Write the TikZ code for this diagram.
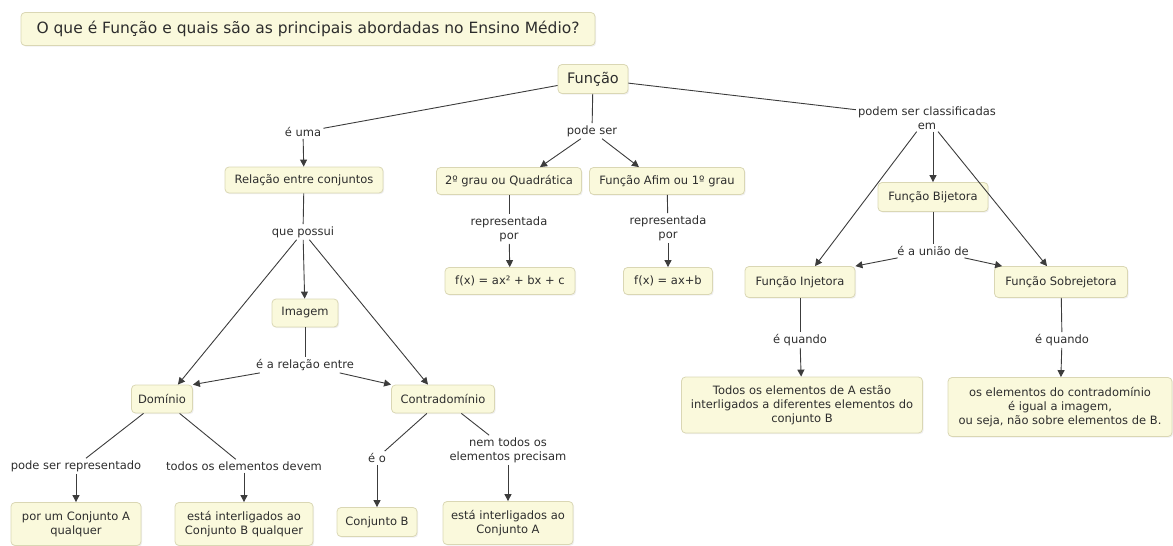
\documentclass[tikz,border=0pt]{standalone}
\usepackage{fontspec}
\setmainfont{DejaVu Sans}
\usetikzlibrary{arrows.meta,shadows}

\definecolor{boxfill}{RGB}{250,249,220}
\definecolor{boxline}{RGB}{218,215,180}
\definecolor{ink}{RGB}{45,45,45}
\definecolor{wirecol}{RGB}{60,60,60}

\tikzset{
  concept/.style={draw=boxline, fill=boxfill, rounded corners=4pt, line width=0.8pt,
    text=ink, font=\fontsize{11.5}{14}\selectfont, align=center,
    inner xsep=6pt, inner ysep=4pt,
    drop shadow={shadow xshift=1.2pt, shadow yshift=-1.2pt, opacity=0.12}},
  linkphrase/.style={text=ink, font=\fontsize{11.5}{14}\selectfont, align=center, inner sep=2pt},
  wire/.style={draw=wirecol, line width=0.9pt},
  arr/.style={wire, -{Triangle[length=7pt,width=7pt]}},
}

\begin{document}
\begin{tikzpicture}[x=1pt,y=-1pt]
\useasboundingbox (0,0) rectangle (1173,546);

% concepts
\node[concept, minimum width=574pt, minimum height=33pt, font=\fontsize{15.5}{18}\selectfont] (title) at (308,29)
  {O que é Função e quais são as principais abordadas no Ensino Médio?};
\node[concept, minimum width=70pt, minimum height=29pt, font=\fontsize{14.5}{17}\selectfont] (fun) at (593,79) {Função};

\node[concept, minimum width=158pt, minimum height=26pt] (rel) at (304,180) {Relação entre conjuntos};
\node[concept, minimum width=145pt, minimum height=27pt] (q2) at (509,181) {2º grau ou Quadrática};
\node[concept, minimum width=155pt, minimum height=27pt] (afim) at (667,181) {Função Afim ou 1º grau};
\node[concept, minimum width=110pt, minimum height=29pt] (bij) at (933,197) {Função Bijetora};

\node[concept, minimum width=66pt, minimum height=28pt] (img) at (305,313) {Imagem};
\node[concept, minimum width=130pt, minimum height=27pt] (fx2) at (510,281) {f(x) = ax² + bx + c};
\node[concept, minimum width=89pt, minimum height=27pt] (fx1) at (668,281) {f(x) = ax+b};
\node[concept, minimum width=110pt, minimum height=31pt] (inj) at (800,282) {Função Injetora};
\node[concept, minimum width=133pt, minimum height=31pt] (sob) at (1061,282) {Função Sobrejetora};

\node[concept, minimum width=61pt, minimum height=28pt] (dom) at (162,399) {Domínio};
\node[concept, minimum width=103pt, minimum height=28pt] (con) at (443,399) {Contradomínio};

\node[concept, minimum width=241pt, minimum height=56pt] (todosA) at (802,405)
  {Todos os elementos de A estão\\interligados a diferentes elementos do\\conjunto B};
\node[concept, minimum width=224pt, minimum height=59pt] (oselem) at (1060,407)
  {os elementos do contradomínio\\é igual a imagem,\\ou seja, não sobre elementos de B.};

\node[concept, minimum width=130pt, minimum height=43pt] (porum) at (76,524) {por um Conjunto A\\qualquer};
\node[concept, minimum width=138pt, minimum height=43pt] (estaB) at (244,524) {está interligados ao\\Conjunto B qualquer};
\node[concept, minimum width=80pt, minimum height=29pt] (cjB) at (377,522) {Conjunto B};
\node[concept, minimum width=130pt, minimum height=43pt] (estaA) at (508,523) {está interligados ao\\Conjunto A};

% linking phrases
\node[linkphrase] (euma) at (303,132) {é uma};
\node[linkphrase] (podeser) at (592,131) {pode ser};
\node[linkphrase] (podem) at (927,118) {podem ser classificadas\\em};
\node[linkphrase] (quepossui) at (303,232) {que possui};
\node[linkphrase] (rep1) at (509,229) {representada\\por};
\node[linkphrase] (rep2) at (668,228) {representada\\por};
\node[linkphrase] (uniao) at (933,251) {é a união de};
\node[linkphrase] (relacao) at (305,365) {é a relação entre};
\node[linkphrase] (quando1) at (800,340) {é quando};
\node[linkphrase] (quando2) at (1062,340) {é quando};
\node[linkphrase] (psr) at (76,466) {pode ser representado};
\node[linkphrase] (tode) at (244,466) {todos os elementos devem};
\node[linkphrase] (eo) at (377,458) {é o};
\node[linkphrase] (nemtodos) at (508,450) {nem todos os\\elementos precisam};

% connectors: concept to linking phrase
\draw[wire] (fun) -- (euma);
\draw[wire] (fun) -- (podeser);
\draw[wire] (fun) -- (podem);
\draw[wire] (rel) -- (quepossui);
\draw[wire] (q2) -- (rep1);
\draw[wire] (afim) -- (rep2);
\draw[wire] (bij) -- (uniao);
\draw[wire] (img) -- (relacao);
\draw[wire] (inj) -- (quando1);
\draw[wire] (sob) -- (quando2);
\draw[wire] (dom) -- (psr);
\draw[wire] (dom) -- (tode);
\draw[wire] (con) -- (eo);
\draw[wire] (con) -- (nemtodos);

% connectors: linking phrase to concept
\draw[arr] (euma) -- (rel);
\draw[arr] (podeser) -- ([xshift=31pt]q2.north);
\draw[arr] (podeser) -- ([xshift=-28pt]afim.north);
\draw[arr] (podem) -- ([xshift=15pt]inj.north);
\draw[arr] (podem.south -| bij.north) -- (bij.north);
\draw[arr] (podem) -- ([xshift=-14pt]sob.north);
\draw[arr] (uniao) -- (inj.north east);
\draw[arr] (uniao) -- ([xshift=8pt]sob.north west);
\draw[arr] (rep1) -- (fx2);
\draw[arr] (rep2) -- (fx1);
\draw[arr] (quepossui) -- ([xshift=-15pt]dom.north east);
\draw[arr] (quepossui) -- (img);
\draw[arr] (quepossui) -- ([xshift=-15pt]con.north);
\draw[arr] (relacao) -- (dom.north east);
\draw[arr] (relacao) -- (con.north west);
\draw[arr] (quando1) -- (todosA);
\draw[arr] (quando2) -- (oselem);
\draw[arr] (psr) -- (porum);
\draw[arr] (tode) -- (estaB);
\draw[arr] (eo) -- (cjB);
\draw[arr] (nemtodos) -- (estaA);
\end{tikzpicture}
\end{document}
